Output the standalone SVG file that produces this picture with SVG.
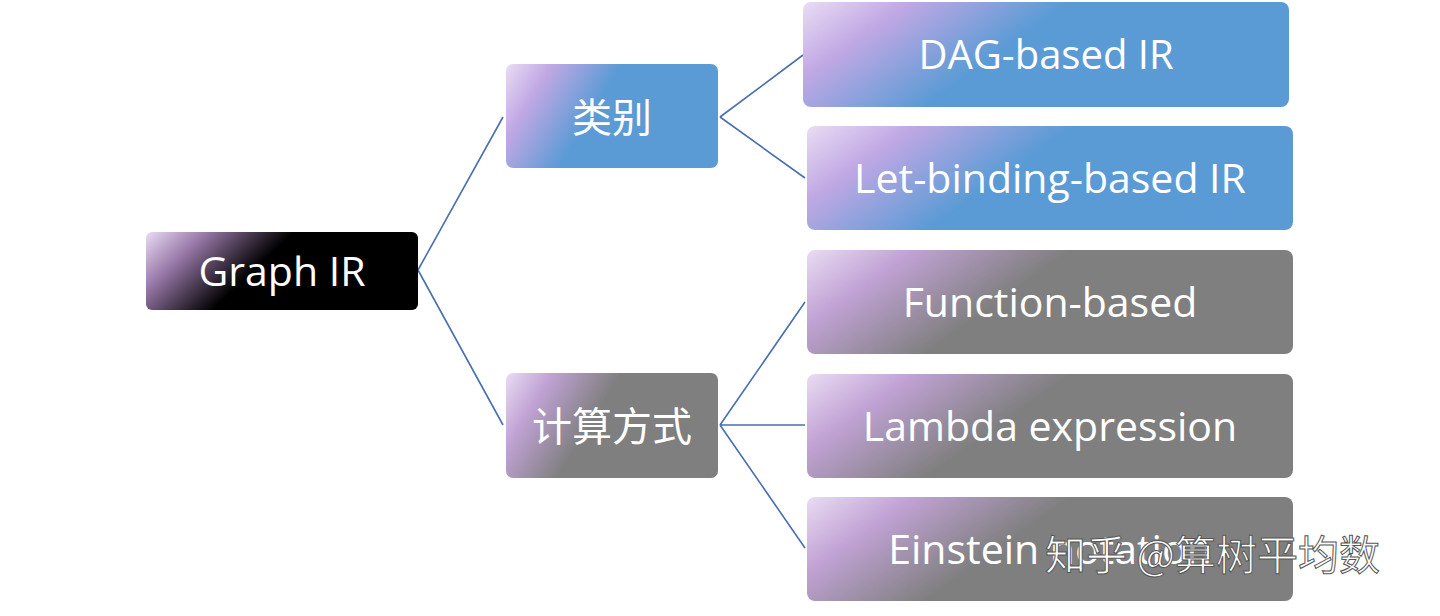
<svg xmlns="http://www.w3.org/2000/svg" width="1440" height="616" viewBox="0 0 1440 616">
<defs>
<linearGradient id="gb" x1="0" y1="0" x2="1" y2="0.3"><stop offset="0" stop-color="#eadcf4"/><stop offset="0.2" stop-color="#c0a8e4"/><stop offset="0.5" stop-color="#5b9bd5"/><stop offset="1" stop-color="#5b9bd5"/></linearGradient>
<linearGradient id="gg" x1="0" y1="0" x2="1" y2="0.3"><stop offset="0" stop-color="#eadcf4"/><stop offset="0.2" stop-color="#c0a2d4"/><stop offset="0.5" stop-color="#7f7f7f"/><stop offset="1" stop-color="#7f7f7f"/></linearGradient>
<linearGradient id="gk" x1="0" y1="0" x2="1" y2="0.3"><stop offset="0" stop-color="#eadcf4"/><stop offset="0.2" stop-color="#9a7aaa"/><stop offset="0.5" stop-color="#000"/><stop offset="1" stop-color="#000"/></linearGradient>
<style>
.t{font-family:"Open Sans","Noto Sans","Noto Sans CJK SC",sans-serif;fill:#fff;text-anchor:middle;dominant-baseline:central}
.c{stroke:#4a6fb0;stroke-width:1.6;fill:none}
</style>
</defs>
<g id="connectors">
<path class="c" d="M418 270 L503 117 M418 270 L503 425 M720 117 L803 55 M720 117 L805 178 M720 425 L805 302 M720 425 L805 425 M720 425 L805 548"/>
</g>
<g id="graph-ir"><rect x="146" y="232" width="272" height="78" rx="6" fill="url(#gk)"/><text class="t" x="282" y="270" font-size="41">Graph IR</text></g>
<g id="leibie"><rect x="506" y="64" width="212" height="104" rx="7" fill="url(#gb)"/><text class="t" x="612" y="116" font-size="40">类别</text></g>
<g id="jisuan"><rect x="506" y="373" width="212" height="105" rx="7" fill="url(#gg)"/><text class="t" x="612" y="425" font-size="40">计算方式</text></g>
<g id="dag"><rect x="803" y="2" width="486" height="105" rx="8" fill="url(#gb)"/><text class="t" x="1046" y="53" font-size="40">DAG-based IR</text></g>
<g id="let"><rect x="807" y="126" width="486" height="104" rx="8" fill="url(#gb)"/><text class="t" x="1050" y="177" font-size="41">Let-binding-based IR</text></g>
<g id="function"><rect x="807" y="250" width="486" height="104" rx="8" fill="url(#gg)"/><text class="t" x="1050" y="301" font-size="41">Function-based</text></g>
<g id="lambda"><rect x="807" y="374" width="486" height="104" rx="8" fill="url(#gg)"/><text class="t" x="1050" y="425" font-size="41">Lambda expression</text></g>
<g id="einstein"><rect x="807" y="497" width="486" height="104" rx="8" fill="url(#gg)"/><text class="t" x="1050" y="548" font-size="41">Einstein notation</text></g>
<text x="1045" y="570" font-size="41" font-family="'Noto Sans CJK SC',sans-serif" fill="#fff" stroke="#555" stroke-width="1">知乎 @算树平均数</text>
</svg>
